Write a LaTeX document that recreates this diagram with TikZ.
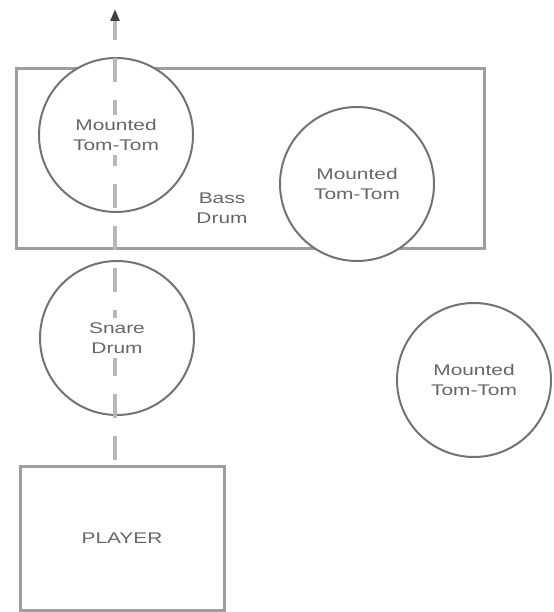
\documentclass[tikz,border=0pt]{standalone}
\usepackage{fontspec}
\newfontfamily\drumfont[FakeStretch=1.35]{Liberation Sans}
\usetikzlibrary{arrows.meta}
\tikzset{
	drum/.style={circle, draw=black!55, line width=0.5mm, fill=white, minimum size=3.85cm, inner sep=0pt},
	shell/.style={rectangle, draw=black!38, line width=0.75mm, inner sep=0pt},
	drumlabel/.style={align=center, text=black!60, fill=white, inner sep=3pt, font=\drumfont\fontsize{11}{14}\selectfont},
	axis/.style={line width=0.8mm, color=black!28, dash pattern=on 0.6cm off 0.45cm}
}

\begin{document}
\begin{tikzpicture}
			%%%%% START %%%%%
			\useasboundingbox (0, 0) rectangle (13.825, 15.3);
			
			\node[shell, minimum width=11.7cm, minimum height=4.5cm] (bass) at (6.25, 11.325) {};
			\node[drumlabel] (basslabel) at (5.55, 10.1) {Bass\\Drum};
			
			\node[drum] (tomleft) at (2.9, 11.925) {};
			\node[drum] (tommid) at (8.925, 10.7) {};
			\node[drum] (tomright) at (11.85, 5.8) {};
			\node[drum] (snare) at (2.925, 6.85) {};
			
			\node[shell, minimum width=5.1cm, minimum height=3.575cm] (player) at (3.05, 1.8375) {};
			
			\coordinate (axisbot) at (2.875, 3.8);
			\coordinate (axistop) at (2.875, 15.075);
			\draw[axis, -{Triangle[length=3mm, width=2.2mm, color=black!75]}] (axisbot) -- (axistop);
			
			\node[drumlabel] (tomleftlabel) at (tomleft) {Mounted\\Tom-Tom};
			\node[drumlabel] (tommidlabel) at (tommid) {Mounted\\Tom-Tom};
			\node[drumlabel] (tomrightlabel) at (tomright) {Mounted\\Tom-Tom};
			\node[drumlabel] (snarelabel) at (snare) {Snare\\Drum};
			\node[drumlabel] (playerlabel) at (player) {PLAYER};
			
			%%%%% END %%%%%
		\end{tikzpicture}
\end{document}
